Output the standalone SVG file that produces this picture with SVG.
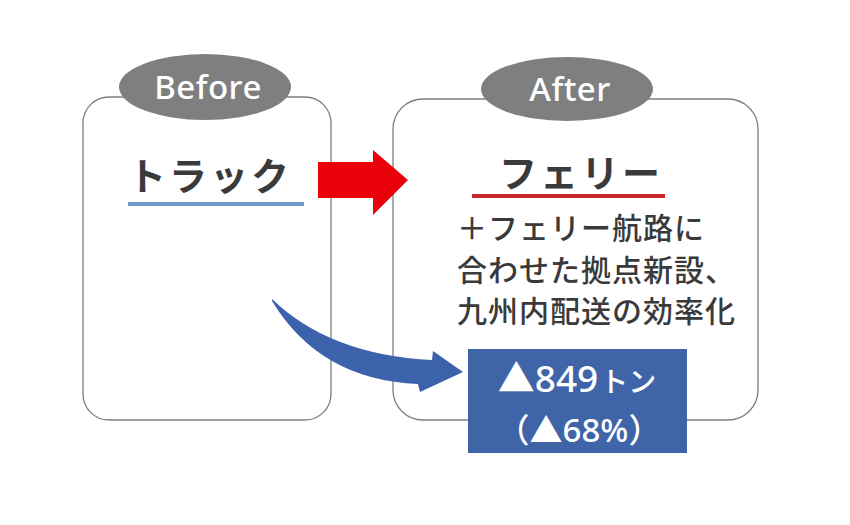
<svg xmlns="http://www.w3.org/2000/svg" width="850" height="525" viewBox="0 0 850 525">
<style>
.box{fill:#fff;stroke:#7f7f7f;stroke-width:1.3}
.tag{fill:#7f7f7f}
.tagt{fill:#fff;font-family:"Noto Sans","Liberation Sans",sans-serif;font-weight:500;font-size:33px;text-anchor:middle;letter-spacing:0.5px}
.ttl{fill:#3a3a3a;font-family:"Noto Sans CJK JP",sans-serif;font-weight:700;font-size:38px;text-anchor:middle;letter-spacing:3px}
.body{fill:#3a3a3a;font-family:"Noto Sans CJK JP",sans-serif;font-weight:500;font-size:30px;letter-spacing:1px}
.wt{fill:#fff;font-family:"Noto Sans","Noto Sans CJK JP",sans-serif;font-weight:500}
</style>
<rect width="850" height="525" fill="#fff"/>
<g id="before">
<rect class="box" x="83" y="97" width="248" height="323" rx="26"/>
<ellipse class="tag" cx="205" cy="87" rx="86" ry="33"/>
<text class="tagt" x="208" y="99">Before</text>
<text class="ttl" x="210" y="190">トラック</text>
<line x1="128" y1="204" x2="304" y2="204" stroke="#6a9bcc" stroke-width="4"/>
</g>
<g id="after">
<rect class="box" x="393" y="99" width="365" height="321" rx="30"/>
<ellipse class="tag" cx="567" cy="89" rx="86" ry="32"/>
<text class="tagt" x="570" y="101">After</text>
<text class="ttl" x="581" y="187">フェリー</text>
<line x1="472" y1="196" x2="665" y2="196" stroke="#c8282a" stroke-width="4"/>
<text class="body" x="457" y="239">＋フェリー航路に</text>
<text class="body" x="457" y="281">合わせた拠点新設、</text>
<text class="body" x="457" y="322">九州内配送の効率化</text>
</g>
<g id="result">
<rect x="468" y="349" width="219" height="104" fill="#3f65a8"/>
<text class="wt" x="577" y="392" text-anchor="middle"><tspan font-size="37">▲849</tspan><tspan font-size="28" dx="2">トン</tspan></text>
<text class="wt" x="579" y="442" text-anchor="middle" font-size="33" font-family="Noto Sans CJK JP, sans-serif">（▲68%）</text>
</g>
<g id="connectors">
<path d="M318,162 L373,162 L373,150 L408,180 L373,215 L373,198 L318,198 Z" fill="#e8000b"/>
<path d="M272,299 Q330,355 432,360 L433,351 L463,372 L420,392 L418,384 Q320,380 272,301 Z" fill="#3b62ab"/>
</g>
</svg>
